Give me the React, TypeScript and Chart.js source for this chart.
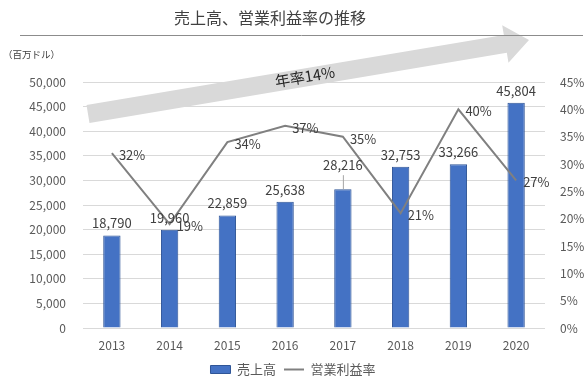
import React, { useEffect, useRef } from "react";
import { Chart, registerables } from "chart.js";

Chart.register(...registerables);

const FONT = '"Noto Sans CJK JP", "Noto Sans", sans-serif';

const years = ["2013", "2014", "2015", "2016", "2017", "2018", "2019", "2020"];
const sales = [18790, 19960, 22859, 25638, 28216, 32753, 33266, 45804];
const margins = [32, 19, 34, 37, 35, 21, 40, 27];
const salesMax = 50000;
const salesStep = 5000;
const marginMax = 45;
const marginStep = 5;
const titleText = "売上高、営業利益率の推移";
const unitText = "（百万ドル）";
const arrowText = "年率14%";
const seriesNames = ["売上高", "営業利益率"];

const decorPlugin = {
  id: "decor",
  beforeDatasetsDraw(chart: any) {
    const ctx = chart.ctx as CanvasRenderingContext2D;
    ctx.save();
    // growth arrow
    const x0 = 88, y0 = 114, x1 = 529, y1 = 40;
    const ang = Math.atan2(y1 - y0, x1 - x0);
    const L = Math.hypot(x1 - x0, y1 - y0);
    ctx.translate(x0, y0);
    ctx.rotate(ang);
    ctx.fillStyle = "#D9D9D9";
    ctx.beginPath();
    ctx.moveTo(0, -9);
    ctx.lineTo(L - 24, -9);
    ctx.lineTo(L - 24, -19);
    ctx.lineTo(L, 0);
    ctx.lineTo(L - 24, 19);
    ctx.lineTo(L - 24, 9);
    ctx.lineTo(0, 9);
    ctx.closePath();
    ctx.fill();
    ctx.fillStyle = "#262626";
    ctx.font = `15px ${FONT}`;
    ctx.textAlign = "center";
    ctx.textBaseline = "middle";
    ctx.fillText(arrowText, 220, -1);
    ctx.restore();

    // title, rule, unit
    ctx.save();
    ctx.fillStyle = "#404040";
    ctx.font = `16px ${FONT}`;
    ctx.textAlign = "center";
    ctx.textBaseline = "middle";
    ctx.fillText(titleText, 270, 18);
    ctx.strokeStyle = "#8C8C8C";
    ctx.lineWidth = 1;
    ctx.beginPath();
    ctx.moveTo(20, 35.5);
    ctx.lineTo(583, 35.5);
    ctx.stroke();
    ctx.font = `9.5px ${FONT}`;
    ctx.textAlign = "left";
    ctx.fillStyle = "#404040";
    ctx.fillText(unitText, 3, 54);
    ctx.restore();
  },
  afterDatasetsDraw(chart: any) {
    const ctx = chart.ctx as CanvasRenderingContext2D;
    ctx.save();
    ctx.font = `13px ${FONT}`;
    ctx.fillStyle = "#404040";
    ctx.textBaseline = "middle";
    const barMeta = chart.getDatasetMeta(0);
    barMeta.data.forEach((el: any, i: number) => {
      const raised = i === 4;
      const ly = el.y - (raised ? 24 : 12);
      ctx.textAlign = "center";
      ctx.fillText(sales[i].toLocaleString("en-US"), el.x, ly);
      if (raised) {
        ctx.strokeStyle = "#A6A6A6";
        ctx.lineWidth = 1;
        ctx.beginPath();
        ctx.moveTo(el.x + 0.5, ly + 10);
        ctx.lineTo(el.x + 0.5, el.y);
        ctx.stroke();
      }
    });
    const lineMeta = chart.getDatasetMeta(1);
    lineMeta.data.forEach((el: any, i: number) => {
      ctx.textAlign = "left";
      ctx.fillText(margins[i] + "%", el.x + 7, el.y + 2);
    });
    ctx.restore();
  },
};

export default function App() {
  const ref = useRef<HTMLCanvasElement>(null);
  useEffect(() => {
    if (!ref.current) return;
    const tickColor = "#595959";
    const chart = new Chart(ref.current, {
      type: "bar",
      data: {
        labels: years,
        datasets: [
          {
            type: "bar",
            label: seriesNames[0],
            data: sales,
            backgroundColor: "#4472C4",
            borderColor: "#2F5597",
            borderWidth: 1,
            barPercentage: 0.6,
            categoryPercentage: 0.5,
            yAxisID: "y",
            order: 2,
            pointStyle: "rect",
          } as any,
          {
            type: "line",
            label: seriesNames[1],
            data: margins,
            borderColor: "#808080",
            backgroundColor: "#808080",
            borderWidth: 2,
            pointRadius: 0,
            tension: 0,
            yAxisID: "y1",
            order: 1,
            pointStyle: "line",
          } as any,
        ],
      },
      options: {
        responsive: false,
        animation: false,
        layout: { padding: { top: 82, bottom: 3, left: 0, right: 0 } },
        plugins: {
          legend: {
            position: "bottom",
            labels: {
              usePointStyle: true,
              pointStyleWidth: 20,
              boxHeight: 8,
              padding: 8,
              color: tickColor,
              font: { size: 13, family: FONT },
              sort: (a: any, b: any) => a.datasetIndex - b.datasetIndex,
            },
          },
          tooltip: { enabled: false },
        },
        scales: {
          x: {
            grid: { display: false, drawTicks: false },
            border: { display: false },
            ticks: { color: tickColor, font: { size: 12, family: FONT }, padding: 10 },
            afterFit: (s: any) => {
              s.height = 27;
            },
          },
          y: {
            position: "left",
            min: 0,
            max: salesMax,
            ticks: {
              stepSize: salesStep,
              color: tickColor,
              font: { size: 12, family: FONT },
              padding: 17,
              callback: (v: any) => Number(v).toLocaleString("en-US"),
            },
            grid: { color: "#D9D9D9", drawTicks: false },
            border: { display: false },
            afterFit: (s: any) => {
              s.width = 83;
            },
          },
          y1: {
            position: "right",
            min: 0,
            max: marginMax,
            ticks: {
              stepSize: marginStep,
              color: tickColor,
              font: { size: 12, family: FONT },
              padding: 15,
              callback: (v: any) => v + "%",
            },
            grid: { display: false, drawTicks: false },
            border: { display: false },
            afterFit: (s: any) => {
              s.width = 41;
            },
          },
        },
      } as any,
      plugins: [decorPlugin],
    });
    return () => chart.destroy();
  }, []);
  return (
    <div style={{ position: "absolute", left: 0, top: 0, width: 586, height: 389, background: "#fff" }}>
      <canvas ref={ref} width={586} height={389} style={{ display: "block" }} />
    </div>
  );
}
